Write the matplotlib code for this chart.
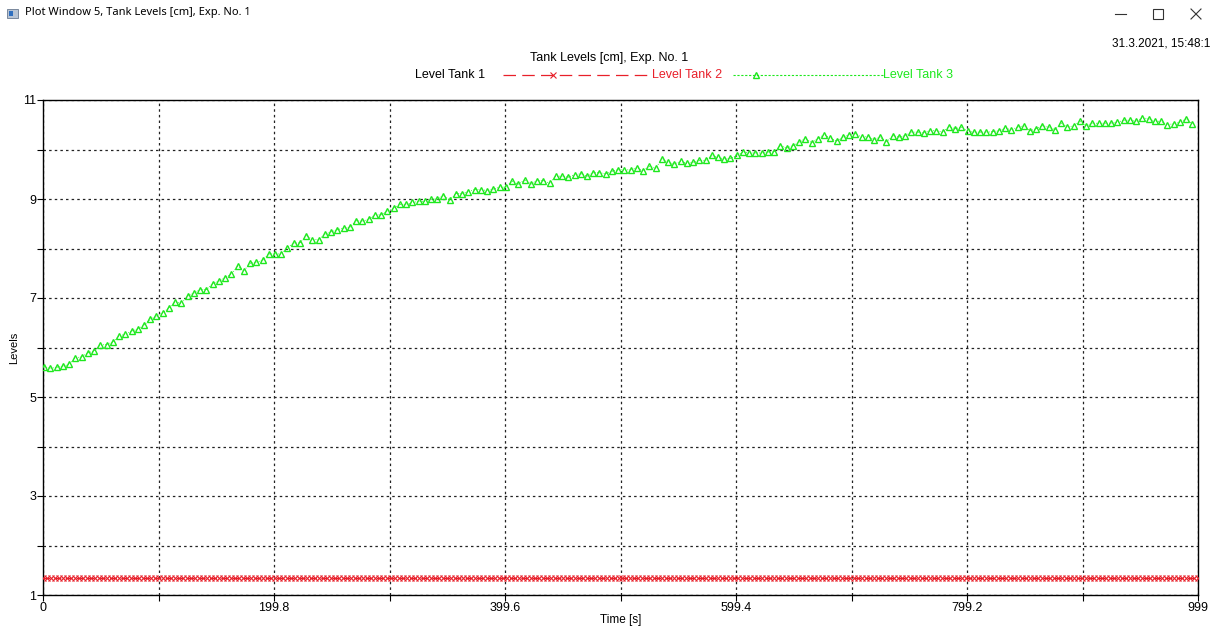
import numpy as np
import matplotlib.pyplot as plt
from matplotlib.lines import Line2D
from matplotlib.patches import Rectangle
from matplotlib.ticker import MultipleLocator

plt.rcParams['font.family'] = ['Liberation Sans', 'DejaVu Sans']

W, H = 1218, 630

# Level Tank 3 samples, split by time range
level3_a = [5.61, 5.58, 5.60, 5.62, 5.66, 5.79, 5.81, 5.89, 5.93, 6.05,
            6.06, 6.11, 6.23, 6.27, 6.33, 6.37, 6.45, 6.57, 6.63, 6.70,
            6.80, 6.92, 6.89, 7.04, 7.10, 7.17, 7.17, 7.29, 7.34, 7.41,
            7.48, 7.64, 7.55, 7.70, 7.72, 7.76, 7.89, 7.89, 7.89, 8.02,
            8.11, 8.11, 8.26, 8.18, 8.18, 8.29, 8.34]
level3_b = [8.38, 8.41, 8.43, 8.56, 8.55, 8.59, 8.68, 8.68, 8.76, 8.81,
            8.89, 8.89, 8.93, 8.95, 8.95, 9.00, 9.00, 9.07, 8.98, 9.11,
            9.11, 9.15, 9.19, 9.19, 9.17, 9.20, 9.24, 9.24, 9.36, 9.30,
            9.39, 9.30, 9.37, 9.37, 9.32, 9.46, 9.46, 9.44, 9.49, 9.51,
            9.46, 9.53, 9.53, 9.51, 9.56, 9.59, 9.59]
level3_c = [9.59, 9.63, 9.57, 9.66, 9.62, 9.81, 9.74, 9.71, 9.76, 9.72,
            9.74, 9.78, 9.78, 9.88, 9.84, 9.81, 9.82, 9.88, 9.95, 9.93,
            9.93, 9.93, 9.95, 9.95, 10.08, 10.03, 10.08, 10.15, 10.22, 10.14,
            10.22, 10.30, 10.23, 10.17, 10.25, 10.30, 10.32, 10.25, 10.26, 10.20,
            10.25, 10.15, 10.28, 10.25, 10.28]
level3_d = [10.35, 10.35, 10.34, 10.38, 10.38, 10.35, 10.46, 10.42, 10.45, 10.37,
            10.35, 10.35, 10.35, 10.36, 10.38, 10.43, 10.40, 10.45, 10.48, 10.38,
            10.42, 10.48, 10.45, 10.40, 10.53, 10.45, 10.48, 10.57, 10.48, 10.53,
            10.53, 10.53, 10.53, 10.55, 10.59, 10.59, 10.57, 10.64, 10.62, 10.57,
            10.57, 10.50, 10.52, 10.55, 10.62, 10.52]
level3 = np.array(level3_a + level3_b + level3_c + level3_d)
t3 = np.linspace(1, 994, len(level3))

# Level Tank 2 stays flat
level2_value = 1.34
n2 = 290
t2 = np.linspace(0, 999, n2)
level2 = np.full(n2, level2_value)

x_max = 999
x_labels = [0, 199.8, 399.6, 599.4, 799.2, 999]
y_labels = [1, 3, 5, 7, 9, 11]

RED = '#e8202a'
GREEN = '#1ee81e'


def px(x, y):
    return x / W, 1 - y / H


fig = plt.figure(figsize=(W / 100, H / 100), dpi=100)
l, b = px(43, 595)
r, t = px(1198, 100)
ax = fig.add_axes([l, b, r - l, t - b])

ax.plot(t2, level2, color=RED, lw=0.8, ls=(0, (6, 4)), marker='x',
        ms=4, mew=0.8, zorder=3)
ax.plot(t3, level3, color=GREEN, lw=0.6, ls=':', marker='^', ms=5,
        mfc='none', mew=1.0, zorder=3)

ax.set_xlim(0, x_max)
ax.set_ylim(1, 11)
ax.set_xticks(x_labels)
ax.set_xticklabels(['0', '199.8', '399.6', '599.4', '799.2', '999'])
ax.xaxis.set_minor_locator(MultipleLocator(99.9))
ax.set_yticks(y_labels)
ax.yaxis.set_minor_locator(MultipleLocator(1))
ax.tick_params(which='both', direction='out', length=4, width=0.8,
               labelsize=9, pad=1)
ax.grid(which='both', color='#222222', lw=0.9, ls=(0, (2, 2.5)))
for s in ax.spines.values():
    s.set_linewidth(1.0)
    s.set_color('black')

ax.set_xlabel('Time [s]', fontsize=8.5, labelpad=0)
ax.set_ylabel('Levels', fontsize=8, labelpad=3)

# chart title and custom legend row
fig.text(*px(609, 58), 'Tank Levels [cm], Exp. No. 1', fontsize=9,
         ha='center', va='center')
fig.text(*px(485, 75), 'Level Tank 1', fontsize=9, ha='right',
         va='center', color='black')
x0, y0 = px(503, 75)
x1, _ = px(652, 75)
fig.add_artist(Line2D([x0, x1], [y0, y0], color=RED, lw=0.9,
                      ls=(0, (10, 5)), transform=fig.transFigure))
fig.add_artist(Line2D([px(553, 0)[0]], [y0], color=RED, marker='x',
                      ms=4, mew=0.8, transform=fig.transFigure))
fig.text(x1, y0, 'Level Tank 2', fontsize=9, ha='left', va='center',
         color=RED)
x0, _ = px(733, 75)
x1, _ = px(883, 75)
fig.add_artist(Line2D([x0, x1], [y0, y0], color=GREEN, lw=0.8,
                      ls=(0, (2, 1.5)), transform=fig.transFigure))
fig.add_artist(Line2D([px(756, 0)[0]], [y0], color=GREEN, marker='^',
                      ms=5, mfc='none', mew=1.0, transform=fig.transFigure))
fig.text(x1, y0, 'Level Tank 3', fontsize=9, ha='left', va='center',
         color=GREEN)

fig.text(*px(1210, 43), '31.3.2021, 15:48:1', fontsize=8.5,
         ha='right', va='center')

# window frame: title, icon and buttons
fig.text(*px(25, 13), 'Plot Window 5, Tank Levels [cm], Exp. No. 1',
         family=['Noto Sans', 'DejaVu Sans'], fontsize=8, ha='left',
         va='center')
ix, iy = px(7, 18)
fig.add_artist(Rectangle((ix, iy), 11 / W, 9 / H, facecolor='#b8c4d4',
                         edgecolor='#6a7a90', lw=0.6,
                         transform=fig.transFigure))
fig.add_artist(Rectangle((ix + 2 / W, iy + 2 / H), 4 / W, 5 / H,
                         facecolor='#2f6fbf', lw=0,
                         transform=fig.transFigure))
a, yb = px(1115, 14)
c, _ = px(1126, 14)
fig.add_artist(Line2D([a, c], [yb, yb], color='#333333', lw=0.8,
                      transform=fig.transFigure))
sx, sy = px(1153, 19)
fig.add_artist(Rectangle((sx, sy), 10 / W, 10 / H, facecolor='none',
                         edgecolor='#333333', lw=0.8,
                         transform=fig.transFigure))
p, q = px(1191, 9)
u, v = px(1201, 19)
fig.add_artist(Line2D([p, u], [q, v], color='#333333', lw=0.8,
                      transform=fig.transFigure))
fig.add_artist(Line2D([p, u], [v, q], color='#333333', lw=0.8,
                      transform=fig.transFigure))

fig.savefig('out.png', dpi=100)
